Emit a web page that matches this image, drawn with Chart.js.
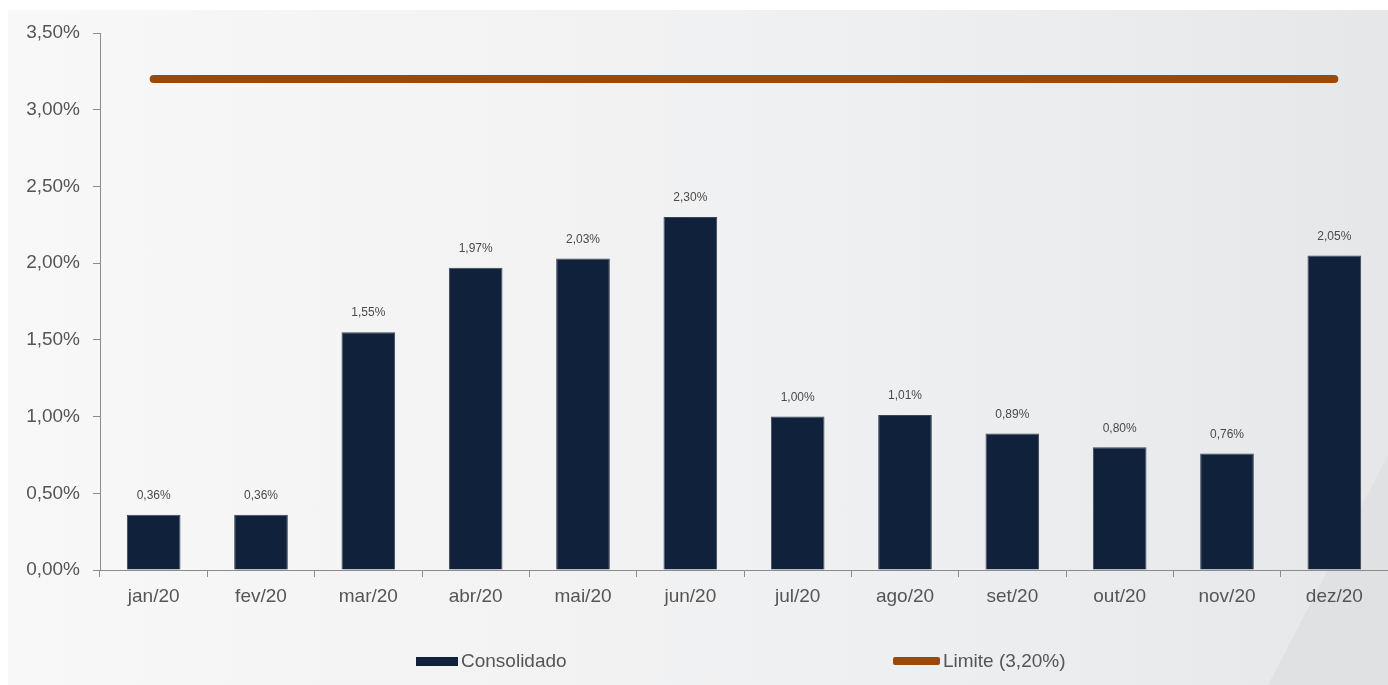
<!DOCTYPE html>
<html lang="pt-BR">
<head>
<meta charset="utf-8">
<title>Consolidado x Limite</title>
<script src="https://cdn.jsdelivr.net/npm/chart.js@4.4.0/dist/chart.umd.min.js"></script>
<style>
    html, body { margin: 0; padding: 0; background: #fff; }
    #wrap { position: relative; width: 1388px; height: 685px; overflow: hidden; }
    #panel {
        position: absolute; left: 8px; top: 10px; right: 0; bottom: 0;
        background: linear-gradient(90deg, #f8f8f8 0%, #f3f3f4 35%, #eeeff0 65%, #e6e7e9 100%);
    }
    #shade {
        position: absolute; left: 0; top: 0; width: 1388px; height: 685px;
        background: #dfe1e3;
        clip-path: polygon(1388px 455px, 1388px 685px, 1268px 685px);
    }
    #chart { position: absolute; left: 0; top: 0; }
    .legend {
        position: absolute; top: 650px; height: 22px;
        font: 19px "Liberation Sans", Arial, sans-serif; color: #555;
        display: flex; align-items: center;
    }
    .legend .sw { display: inline-block; margin-right: 3px; }
</style>
</head>
<body>
<div id="wrap">
    <div id="panel"></div>
    <div id="shade"></div>
    <canvas id="chart" width="1388" height="685"></canvas>
    <div class="legend" style="left:416px;"><span class="sw" style="width:42px;height:9px;background:#10213c;"></span>Consolidado</div>
    <div class="legend" style="left:893px;"><span class="sw" style="width:47px;height:8px;background:#974a0c;border-radius:2px;"></span>Limite (3,20%)</div>
</div>
<script>
const months = ['jan/20', 'fev/20', 'mar/20', 'abr/20', 'mai/20', 'jun/20',
                'jul/20', 'ago/20', 'set/20', 'out/20', 'nov/20', 'dez/20'];
const consolidado = [0.36, 0.36, 1.55, 1.97, 2.03, 2.30, 1.00, 1.01, 0.89, 0.80, 0.76, 2.05];
const limite = [3.2, 3.2, 3.2, 3.2, 3.2, 3.2, 3.2, 3.2, 3.2, 3.2, 3.2, 3.2];
const yTicks = [0, 0.5, 1, 1.5, 2, 2.5, 3, 3.5];

const pct = v => v.toFixed(2).replace('.', ',') + '%';
const tickFont = { family: '"Liberation Sans", Arial, sans-serif', size: 19 };

// value labels above each bar
const barLabels = {
    id: 'barLabels',
    afterDatasetsDraw(chart) {
        const ctx = chart.ctx;
        const meta = chart.getDatasetMeta(0);
        ctx.save();
        ctx.font = '12px "Liberation Sans", Arial, sans-serif';
        ctx.fillStyle = '#4a4a4a';
        ctx.textAlign = 'center';
        ctx.textBaseline = 'middle';
        meta.data.forEach((bar, i) => {
            ctx.fillText(pct(consolidado[i]), bar.x, bar.y - 19);
        });
        ctx.restore();
    }
};

new Chart(document.getElementById('chart'), {
    data: {
        labels: months,
        datasets: [{
            type: 'bar',
            label: 'Consolidado',
            data: consolidado,
            backgroundColor: '#10213c',
            borderColor: '#3b4555',
            borderWidth: 1,
            categoryPercentage: 1,
            barPercentage: 0.5,
            order: 2
        }, {
            type: 'line',
            label: 'Limite (3,20%)',
            data: limite,
            borderColor: '#974a0c',
            borderWidth: 8,
            borderCapStyle: 'round',
            pointRadius: 0,
            fill: false,
            order: 1
        }]
    },
    options: {
        responsive: false,
        animation: false,
        devicePixelRatio: 1,
        layout: { padding: { top: 33, right: 0, bottom: 70, left: 0 } },
        plugins: {
            legend: { display: false },
            tooltip: { enabled: false }
        },
        scales: {
            x: {
                offset: true,
                grid: { display: true, drawOnChartArea: false, offset: true, tickLength: 7, color: '#8c8c8c' },
                border: { color: '#8c8c8c', width: 1 },
                ticks: { font: tickFont, color: '#555', padding: 8, maxRotation: 0 },
                afterFit: scale => { scale.height = 45; }
            },
            y: {
                min: 0,
                max: 3.5,
                afterBuildTicks: scale => { scale.ticks = yTicks.map(v => ({ value: v })); },
                grid: { display: true, drawOnChartArea: false, tickLength: 7, color: '#8c8c8c' },
                border: { color: '#8c8c8c', width: 1 },
                ticks: { font: tickFont, color: '#555', padding: 13, callback: v => pct(v) },
                afterFit: scale => { scale.width = 100; }
            }
        }
    },
    plugins: [barLabels]
});
</script>
</body>
</html>
